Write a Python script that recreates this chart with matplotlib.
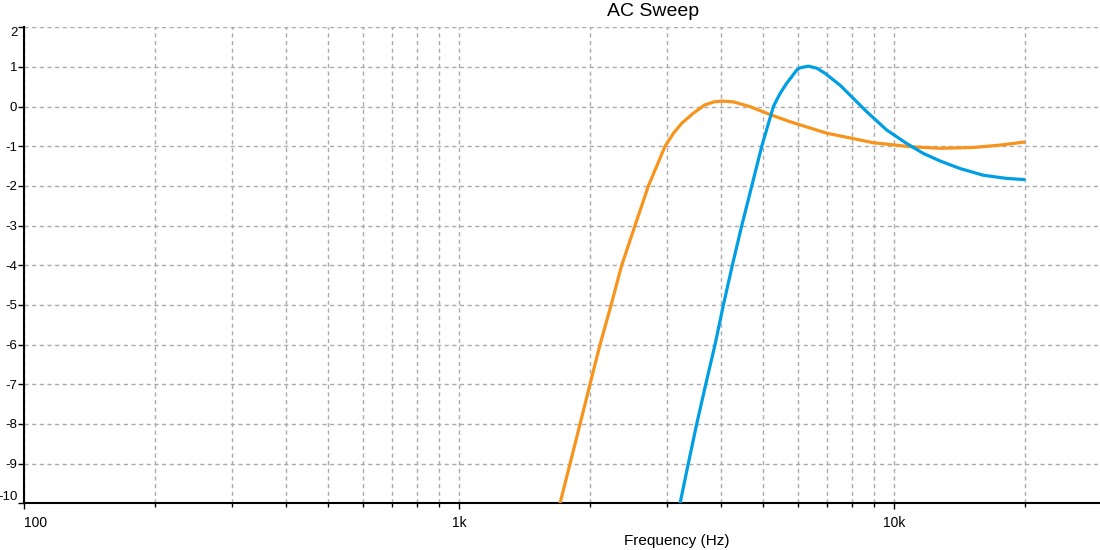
import matplotlib
matplotlib.use("Agg")
import matplotlib.pyplot as plt
from matplotlib.ticker import FixedLocator, NullFormatter, LogLocator

# ---- data ----
orange_f = [1704, 1797, 1895, 1997, 2106, 2233, 2362, 2534, 2720, 2971, 3107, 3245, 3447,
            3661, 3850, 4011, 4266, 4660, 5180, 5757, 6994, 8946, 10866, 12740, 15196,
            17500, 20000]
orange_db = [-10, -9, -8, -7, -6, -5, -4, -3, -2, -1, -0.67, -0.42, -0.17,
             0.04, 0.12, 0.14, 0.12, 0.0, -0.2, -0.38, -0.67, -0.91, -1.01, -1.05, -1.03,
             -0.97, -0.89]

blue_f = [3217, 3360, 3513, 3685, 3871, 4046, 4242, 4459, 4702, 4957, 5271, 5366, 5461,
          5656, 5964, 6071, 6343, 6632, 6929, 7503, 8643, 9605, 10680, 11660, 12740,
          14160, 16020, 18130, 20000]
blue_db = [-10, -9, -8, -7, -6, -5, -4, -3, -2, -1, 0.0, 0.17, 0.33,
           0.59, 0.92, 0.98, 1.02, 0.97, 0.84, 0.54, -0.13, -0.59, -0.93, -1.18, -1.37,
           -1.56, -1.73, -1.81, -1.84]

x_ticks = [100, 1000, 10000]
x_tick_labels = ["100", "1k", "10k"]
y_ticks = list(range(-10, 3))
y_tick_labels = [str(v) for v in y_ticks]

title = "AC Sweep"
x_label = "Frequency (Hz)"

# ---- figure ----
plt.rcParams['font.family'] = ['Liberation Sans', 'DejaVu Sans']
fig = plt.figure(figsize=(11, 5.5), dpi=100)
ax = fig.add_axes([24.3 / 1100, 46.7 / 550, (1100 - 24.3) / 1100, 476.0 / 550])

ax.plot(orange_f, orange_db, color="#F7941D", lw=2.3, solid_capstyle="butt", zorder=3)
ax.plot(blue_f, blue_db, color="#009FE3", lw=2.3, solid_capstyle="butt", zorder=4)

ax.set_xscale("log")
ax.set_xlim(100, 29700)
ax.set_ylim(-10, 2)

ax.xaxis.set_major_locator(FixedLocator(x_ticks))
ax.set_xticklabels(x_tick_labels)
ax.xaxis.set_minor_locator(LogLocator(base=10, subs=range(2, 10)))
ax.xaxis.set_minor_formatter(NullFormatter())
ax.set_yticks(y_ticks)
ax.set_yticklabels(y_tick_labels)

for lab in ax.get_xticklabels():
    lab.set_fontsize(10)
ax.get_xticklabels()[0].set_horizontalalignment("left")
for lab in ax.get_yticklabels():
    lab.set_fontsize(9.5)
ax.get_yticklabels()[-1].set_verticalalignment("top")
ax.get_yticklabels()[0].set_verticalalignment("bottom")

ax.tick_params(axis="x", which="major", length=4, width=1, pad=5, direction="out")
ax.tick_params(axis="x", which="minor", length=3, width=1, direction="out")
ax.tick_params(axis="y", which="major", length=4, width=1, pad=1, direction="out")

grid_kw = dict(color="#aaaaaa", linewidth=1.0, linestyle=(0, (3, 2.5)))
ax.grid(True, which="major", axis="both", **grid_kw)
ax.grid(True, which="minor", axis="x", **grid_kw)
ax.set_axisbelow(True)

for s in ("top", "right"):
    ax.spines[s].set_visible(False)
for s in ("left", "bottom"):
    ax.spines[s].set_linewidth(1.5)
    ax.spines[s].set_color("black")

fig.text(653 / 1100, 1 - 12 / 550, title, ha="center", va="center", fontsize=14)
fig.text(677 / 1100, 1 - 541 / 550, x_label, ha="center", va="center", fontsize=11)

fig.savefig("out.png", dpi=100)
